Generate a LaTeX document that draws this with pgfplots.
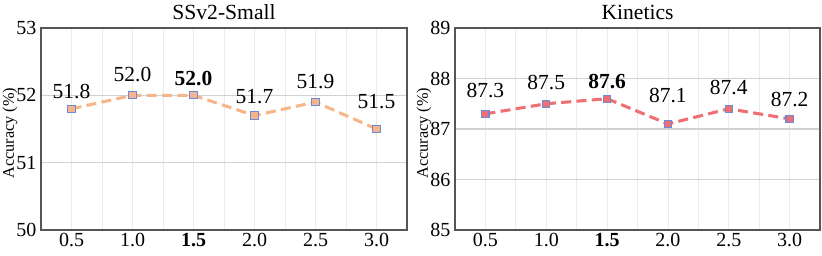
\documentclass[border=0pt]{standalone}
\usepackage{fontspec}
\setmainfont{Liberation Serif}
\usepackage{pgfplots}
\pgfplotsset{compat=1.18}
\definecolor{ssline}{HTML}{F6B68A}
\definecolor{ssfill}{HTML}{F7B48C}
\definecolor{kline}{HTML}{F06F74}
\definecolor{kfill}{HTML}{EE6E74}
\definecolor{medge}{HTML}{6A8CD6}
\definecolor{frame}{HTML}{555555}
\pgfplotsset{
  panel/.style={
    scale only axis,
    width=274.5pt, height=151.5pt,
    xmin=0.25, xmax=3.25,
    xtick={0.5,1.0,1.5,2.0,2.5,3.0},
    xticklabels={0.5,1.0,\textbf{1.5},2.0,2.5,3.0},
    minor xtick={0.75,1.25,1.75,2.25,2.75},
    xmajorgrids, xminorgrids, ymajorgrids,
    major x grid style={color=black!8, line width=0.6pt},
    minor x grid style={color=black!8, line width=0.6pt},
    major y grid style={color=black!18, line width=0.9pt},
    major tick length=0pt, minor tick length=0pt,
    axis line style={draw=frame, line width=0.8pt},
    tick label style={font=\fontsize{15}{18}\selectfont},
    /pgf/number format/assume math mode=true,
    xticklabel style={anchor=base, yshift=-12.6pt},
    yticklabel style={/pgf/number format/.cd, fixed, precision=0},
    every axis title/.style={at={(0.5,1)}, anchor=base, yshift=6pt, font=\fontsize{16.2}{19}\selectfont},
    ylabel={Accuracy (\%)},
    every axis y label/.style={at={(axis description cs:-0.0849,0.48)}, rotate=90, anchor=center, font=\fontsize{12.2}{14}\selectfont},
    clip=false,
  },
  lbl/.style={draw=none, mark=none, nodes near coords, point meta=explicit symbolic,
    every node near coord/.style={anchor=base, inner sep=0pt, font=\fontsize{16.1}{19}\selectfont}},
}
\begin{document}
\begin{tikzpicture}
\useasboundingbox (0,0) rectangle (616.5pt,192pt);
\begin{axis}[panel, at={(30.75pt,19.5pt)}, anchor=south west,
  ymin=50, ymax=53, ytick={50,51,52,53}, title={SSv2-Small}]
\addplot[color=ssline, line width=2.3pt, dash pattern=on 7.5pt off 4pt,
  mark=square*, mark size=2.7pt,
  mark options={solid, fill=ssfill, draw=medge, line width=0.8pt}]
  coordinates {(0.5,51.8) (1.0,52.0) (1.5,52.0) (2.0,51.7) (2.5,51.9) (3.0,51.5)};
\addplot[lbl] coordinates {
  (0.5,51.95) [51.8]
  (1.0,52.20) [52.0]
  (1.5,52.15) [\textbf{52.0}]
  (2.0,51.88) [51.7]
  (2.5,52.10) [51.9]
  (3.0,51.80) [51.5]};
\end{axis}
\begin{axis}[panel, at={(341.25pt,19.5pt)}, anchor=south west, width=273.75pt,
  ymin=85, ymax=89, ytick={85,86,87,88,89}, title={Kinetics}]
\addplot[color=kline, line width=2.3pt, dash pattern=on 7.5pt off 4pt,
  mark=square*, mark size=2.7pt,
  mark options={solid, fill=kfill, draw=medge, line width=0.8pt}]
  coordinates {(0.5,87.3) (1.0,87.5) (1.5,87.6) (2.0,87.1) (2.5,87.4) (3.0,87.2)};
\addplot[lbl] coordinates {
  (0.5,87.62) [87.3]
  (1.0,87.79) [87.5]
  (1.5,87.81) [\textbf{87.6}]
  (2.0,87.53) [87.1]
  (2.5,87.69) [87.4]
  (3.0,87.44) [87.2]};
\end{axis}
\end{tikzpicture}
\end{document}
